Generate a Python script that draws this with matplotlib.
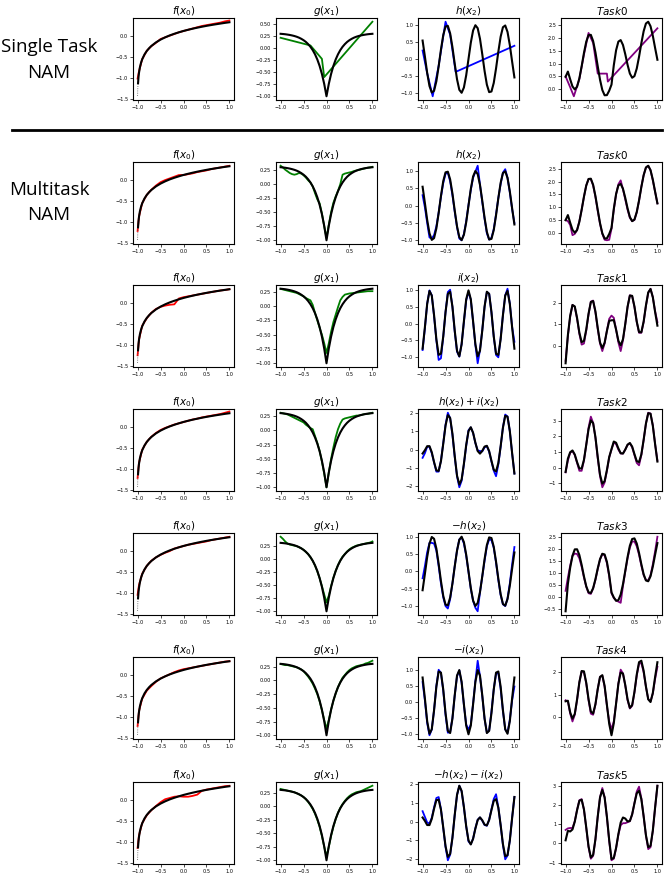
import matplotlib
matplotlib.use("Agg")
import matplotlib.pyplot as plt
import numpy as np
from matplotlib.lines import Line2D

# sampling positions
x_grid = np.linspace(-1, 1, 41)
x_f = [-1.0, -0.995, -0.99, -0.98, -0.97, -0.95, -0.925, -0.9, -0.85, -0.8, -0.75, -0.7,
       -0.6, -0.5, -0.4, -0.3, -0.2, -0.1, 0.0, 0.1, 0.2, 0.3, 0.4, 0.5, 0.6, 0.7, 0.8, 0.9, 1.0]
x_f_nam = [-1.0, -0.97, -0.9, -0.8, -0.7, -0.6, -0.5, -0.4, -0.3, -0.2, -0.1, 0.0,
           0.1, 0.2, 0.3, 0.4, 0.5, 0.6, 0.7, 0.8, 0.9, 1.0]

# ground truth shape functions (black)
f_true = [-1.43, -1.243, -1.131, -0.985, -0.887, -0.755, -0.644, -0.563, -0.447, -0.364, -0.299, -0.245,
          -0.160, -0.094, -0.040, 0.006, 0.045, 0.080, 0.112, 0.140, 0.166, 0.190, 0.212, 0.233, 0.252,
          0.270, 0.287, 0.304, 0.319]
g_true = [0.303, 0.299, 0.294, 0.287, 0.279, 0.269, 0.257, 0.242, 0.223, 0.199, 0.170, 0.134, 0.088,
          0.032, -0.038, -0.125, -0.233, -0.367, -0.534, -0.742, -1.000, -0.742, -0.534, -0.367, -0.233,
          -0.125, -0.038, 0.032, 0.088, 0.134, 0.170, 0.199, 0.223, 0.242, 0.257, 0.269, 0.279, 0.287,
          0.294, 0.299, 0.303]
h_true = [0.544, 0.075, -0.412, -0.798, -0.989, -0.938, -0.657, -0.215, 0.279, 0.706, 0.959, 0.978,
          0.757, 0.351, -0.141, -0.598, -0.909, -0.997, -0.841, -0.479, 0.000, 0.479, 0.841, 0.997,
          0.909, 0.598, 0.141, -0.351, -0.757, -0.978, -0.959, -0.706, -0.279, 0.215, 0.657, 0.938,
          0.989, 0.798, 0.412, -0.075, -0.544]
i_true = [-0.760, -0.113, 0.594, 0.983, 0.844, 0.252, -0.476, -0.946, -0.911, -0.390, 0.347, 0.893,
          0.960, 0.512, -0.211, -0.821, -0.990, -0.628, 0.071, 0.732, 1.000, 0.732, 0.071, -0.628,
          -0.990, -0.821, -0.211, 0.512, 0.960, 0.893, 0.347, -0.390, -0.911, -0.946, -0.476, 0.252,
          0.844, 0.983, 0.594, -0.113, -0.760]
hi_true = [-0.216, -0.038, 0.182, 0.185, -0.145, -0.686, -1.133, -1.161, -0.632, 0.316, 1.306, 1.871,
           1.717, 0.863, -0.352, -1.419, -1.899, -1.625, -0.770, 0.253, 1.000, 1.211, 0.912, 0.369,
           -0.081, -0.223, -0.070, 0.161, 0.203, -0.085, -0.612, -1.096, -1.190, -0.731, 0.181, 1.190,
           1.833, 1.781, 1.006, -0.188, -1.304]

# ground truth task outputs (black)
task0_true = [0.487, 0.689, 0.389, 0.112, -0.004, 0.102, 0.425, 0.897, 1.412, 1.849, 2.105, 2.116,
              1.875, 1.436, 0.897, 0.373, -0.027, -0.231, -0.225, -0.054, 0.182, 0.933, 1.517, 1.854,
              1.912, 1.721, 1.363, 0.952, 0.613, 0.449, 0.514, 0.806, 1.266, 1.788, 2.254, 2.556,
              2.625, 2.451, 2.080, 1.605, 1.148]
task1_true = [-0.817, 0.501, 1.395, 1.893, 1.829, 1.292, 0.606, 0.166, 0.222, 0.753, 1.493, 2.031,
              2.078, 1.597, 0.827, 0.150, -0.108, 0.138, 0.687, 1.157, 1.182, 1.186, 0.747, 0.229,
              0.013, 0.302, 1.011, 1.815, 2.330, 2.320, 1.820, 1.122, 0.634, 0.627, 1.121, 1.870,
              2.480, 2.636, 2.262, 1.567, 0.932]
task2_true = [-0.273, 0.576, 0.983, 1.095, 0.840, 0.354, -0.051, -0.049, 0.501, 1.459, 2.452, 3.009,
              2.835, 1.948, 0.686, -0.448, -1.017, -0.859, -0.154, 0.678, 1.182, 1.665, 1.588, 1.226,
              0.922, 0.900, 1.152, 1.464, 1.573, 1.342, 0.861, 0.416, 0.355, 0.842, 1.778, 2.808,
              3.469, 3.434, 2.674, 1.492, 0.388]
task3_true = [-0.601, 0.539, 1.213, 1.708, 1.974, 1.978, 1.739, 1.327, 0.854, 0.437, 0.187, 0.160,
              0.361, 0.734, 1.179, 1.569, 1.791, 1.763, 1.457, 0.904, 0.182, -0.025, -0.165, -0.140,
              0.094, 0.525, 1.081, 1.654, 2.127, 2.405, 2.432, 2.218, 1.824, 1.358, 0.940, 0.680,
              0.647, 0.855, 1.256, 1.755, 2.236]
task4_true = [0.703, 0.727, 0.207, -0.073, 0.141, 0.788, 1.558, 2.058, 2.044, 1.533, 0.799, 0.245,
              0.158, 0.573, 1.249, 1.792, 1.872, 1.394, 0.545, -0.307, -0.818, -0.278, 0.605, 1.485,
              1.993, 1.944, 1.433, 0.791, 0.410, 0.534, 1.126, 1.902, 2.456, 2.519, 2.073, 1.366,
              0.792, 0.670, 1.074, 1.793, 2.452]
task5_true = [0.159, 0.652, 0.619, 0.725, 1.130, 1.726, 2.215, 2.273, 1.765, 0.827, -0.160, -0.733,
              -0.599, 0.222, 1.390, 2.390, 2.781, 2.391, 1.386, 0.172, -0.818, -0.757, -0.236, 0.488,
              1.084, 1.346, 1.292, 1.142, 1.167, 1.512, 2.085, 2.608, 2.735, 2.304, 1.416, 0.428,
              -0.197, -0.128, 0.662, 1.868, 2.996]

# single task NAM (row 1), piecewise learned curves
st_f = [-1.02, -0.85, -0.56, -0.36, -0.25, -0.17, -0.08, -0.04, 0.00, 0.04, 0.08, 0.11, 0.14, 0.17,
        0.20, 0.23, 0.25, 0.27, 0.29, 0.31, 0.34, 0.36]
st_g_x = [-1.0, -0.35, -0.1, -0.05, 1.0]
st_g = [0.22, 0.06, -0.22, -0.60, 0.555]
st_h_x = [-1.0, -0.9, -0.78, -0.65, -0.5, -0.4, -0.28, 1.0]
st_h = [0.25, -0.42, -1.10, -0.20, 1.10, 0.72, -0.38, 0.39]
st_t_x = [-1.0, -0.9, -0.82, -0.7, -0.6, -0.5, -0.4, -0.3, -0.1, -0.08, 1.0]
st_t = [0.50, 0.08, -0.27, 0.40, 1.35, 2.19, 1.80, 0.61, 0.61, 0.30, 2.37]

# multitask NAM (rows 2-7), learned curves
mt_f = [
    [-1.22, -0.88, -0.56, -0.36, -0.24, -0.14, -0.06, -0.01, 0.03, 0.07, 0.11, 0.11, 0.13, 0.15, 0.18, 0.20, 0.22, 0.25, 0.27, 0.29, 0.31, 0.33],
    [-1.25, -0.88, -0.55, -0.37, -0.24, -0.15, -0.10, -0.07, -0.05, -0.04, 0.10, 0.13, 0.15, 0.17, 0.19, 0.21, 0.23, 0.25, 0.27, 0.29, 0.30, 0.32],
    [-1.22, -0.86, -0.55, -0.36, -0.24, -0.15, -0.08, -0.03, 0.01, 0.05, 0.08, 0.11, 0.14, 0.17, 0.19, 0.22, 0.24, 0.26, 0.28, 0.30, 0.33, 0.36],
    [-1.05, -0.82, -0.55, -0.36, -0.24, -0.16, -0.10, -0.05, -0.01, 0.05, 0.08, 0.11, 0.14, 0.16, 0.18, 0.20, 0.22, 0.25, 0.27, 0.29, 0.31, 0.33],
    [-1.22, -0.87, -0.57, -0.38, -0.27, -0.17, -0.09, -0.04, 0.01, 0.06, 0.10, 0.13, 0.15, 0.17, 0.19, 0.21, 0.23, 0.25, 0.27, 0.29, 0.31, 0.32],
    [-1.15, -0.85, -0.56, -0.37, -0.25, -0.15, -0.06, 0.01, 0.04, 0.07, 0.08, 0.07, 0.07, 0.09, 0.12, 0.21, 0.24, 0.26, 0.28, 0.30, 0.32, 0.33],
]
mt_g = [
    [0.33, 0.30, 0.26, 0.23, 0.20, 0.18, 0.17, 0.18, 0.20, 0.19, 0.16, 0.12, 0.07, 0.03, -0.04, -0.16, -0.27, -0.34, -0.52, -0.75, -0.96, -0.72, -0.50, -0.33, -0.22, -0.12, 0.00, 0.17, 0.19, 0.20, 0.21, 0.22, 0.235, 0.245, 0.255, 0.265, 0.275, 0.285, 0.295, 0.30, 0.31],
    [0.30, 0.29, 0.28, 0.27, 0.26, 0.25, 0.24, 0.23, 0.21, 0.19, 0.17, 0.14, 0.12, 0.10, 0.02, -0.12, -0.25, -0.38, -0.50, -0.65, -0.82, -0.65, -0.45, -0.28, -0.15, -0.02, 0.10, 0.16, 0.20, 0.21, 0.22, 0.225, 0.23, 0.235, 0.24, 0.245, 0.25, 0.255, 0.26, 0.26, 0.26],
    [0.31, 0.30, 0.29, 0.28, 0.26, 0.24, 0.22, 0.20, 0.18, 0.16, 0.14, 0.10, 0.07, 0.04, 0.02, -0.10, -0.22, -0.36, -0.55, -0.76, -1.00, -0.74, -0.50, -0.30, -0.12, 0.02, 0.12, 0.19, 0.21, 0.22, 0.23, 0.24, 0.25, 0.26, 0.26, 0.27, 0.28, 0.29, 0.29, 0.30, 0.31],
    [0.42, 0.38, 0.33, 0.29, 0.27, 0.26, 0.25, 0.24, 0.22, 0.20, 0.17, 0.13, 0.09, 0.03, -0.04, -0.13, -0.24, -0.37, -0.52, -0.68, -0.83, -0.70, -0.52, -0.36, -0.23, -0.12, -0.03, 0.04, 0.09, 0.14, 0.18, 0.21, 0.23, 0.25, 0.26, 0.27, 0.28, 0.29, 0.30, 0.31, 0.33],
    [0.30, 0.29, 0.28, 0.28, 0.27, 0.26, 0.25, 0.24, 0.22, 0.20, 0.17, 0.12, 0.07, 0.01, -0.06, -0.15, -0.25, -0.38, -0.54, -0.72, -0.88, -0.72, -0.53, -0.37, -0.24, -0.12, -0.03, 0.05, 0.10, 0.15, 0.19, 0.22, 0.24, 0.26, 0.27, 0.28, 0.29, 0.31, 0.32, 0.34, 0.36],
    [0.32, 0.31, 0.30, 0.29, 0.28, 0.27, 0.26, 0.24, 0.22, 0.20, 0.17, 0.13, 0.08, 0.02, -0.05, -0.14, -0.25, -0.38, -0.55, -0.75, -0.93, -0.75, -0.55, -0.38, -0.24, -0.12, -0.03, 0.04, 0.10, 0.15, 0.19, 0.22, 0.24, 0.26, 0.27, 0.28, 0.30, 0.32, 0.34, 0.36, 0.38],
]
mt_third = [
    [0.30, -0.05, -0.50, -0.92, -0.95, -0.85, -0.60, -0.20, 0.25, 0.65, 0.92, 0.95, 0.70, 0.30, -0.18, -0.62, -0.95, -1.00, -0.82, -0.45, 0.02, 0.45, 0.80, 0.98, 1.15, 0.60, 0.10, -0.38, -0.80, -0.98, -0.93, -0.68, -0.25, 0.22, 0.62, 0.95, 1.05, 0.80, 0.38, -0.10, -0.50],
    [-0.80, -0.15, 0.60, 1.00, 0.85, 0.22, -0.50, -1.10, -1.05, -0.40, 0.35, 0.95, 1.02, 0.50, -0.25, -0.85, -1.00, -0.62, 0.05, 0.70, 0.95, 0.72, 0.05, -0.65, -1.20, -0.80, -0.20, 0.50, 0.95, 0.90, 0.33, -0.40, -0.95, -1.02, -0.45, 0.25, 0.85, 1.05, 0.60, -0.10, -0.55],
    [-0.45, -0.20, 0.15, 0.15, -0.20, -0.70, -1.20, -1.20, -0.60, 0.35, 1.35, 2.00, 1.70, 0.80, -0.40, -1.45, -2.05, -1.70, -0.80, 0.20, 1.05, 1.20, 0.90, 0.35, -0.05, -0.08, -0.10, 0.12, 0.18, -0.12, -0.65, -1.15, -1.45, -0.80, 0.15, 1.20, 1.90, 1.80, 1.00, -0.20, -1.30],
    [-0.20, 0.15, 0.55, 0.82, 0.82, 0.80, 0.60, 0.15, -0.35, -0.75, -1.00, -1.07, -0.80, -0.35, 0.15, 0.60, 0.92, 0.98, 0.80, 0.45, -0.02, -0.50, -0.85, -1.05, -1.15, -0.60, -0.15, 0.30, 0.72, 0.92, 0.90, 0.68, 0.25, -0.25, -0.68, -0.95, -1.00, -0.78, -0.35, 0.20, 0.70],
    [0.62, 0.05, -0.65, -1.03, -0.85, -0.25, 0.50, 1.00, 0.90, 0.35, -0.40, -0.95, -0.93, -0.50, 0.20, 0.80, 0.98, 0.60, -0.10, -0.70, -0.85, -0.70, -0.05, 0.65, 1.28, 0.80, 0.18, -0.52, -0.95, -0.88, -0.30, 0.40, 0.88, 0.90, 0.42, -0.28, -0.85, -0.95, -0.55, 0.05, 0.48],
    [0.55, 0.25, -0.05, -0.10, 0.20, 0.75, 1.25, 1.30, 0.65, -0.35, -1.35, -2.05, -1.75, -0.85, 0.35, 1.40, 1.90, 1.60, 0.75, -0.25, -1.05, -1.20, -0.90, -0.35, 0.10, 0.22, 0.05, -0.18, -0.22, 0.10, 0.65, 1.20, 1.45, 0.75, -0.20, -1.25, -2.00, -1.80, -1.00, 0.20, 1.30],
]
mt_task = [
    [0.50, 0.45, 0.30, -0.10, -0.05, 0.10, 0.45, 0.90, 1.40, 1.85, 2.10, 2.10, 1.85, 1.40, 0.85, 0.35, -0.05, -0.28, -0.30, -0.28, 0.15, 0.90, 1.50, 1.90, 2.05, 1.70, 1.30, 0.90, 0.58, 0.45, 0.50, 0.80, 1.25, 1.80, 2.25, 2.55, 2.62, 2.45, 2.05, 1.60, 1.15],
    [-0.70, 0.45, 1.35, 1.90, 1.80, 1.25, 0.55, 0.05, 0.10, 0.70, 1.45, 2.05, 2.10, 1.55, 0.78, 0.10, -0.25, 0.10, 0.70, 1.25, 1.40, 1.30, 0.75, 0.15, -0.25, 0.25, 1.00, 1.80, 2.35, 2.30, 1.80, 1.10, 0.60, 0.60, 1.10, 1.85, 2.45, 2.65, 2.25, 1.60, 1.10],
    [-0.30, 0.45, 0.95, 1.05, 0.80, 0.30, -0.20, -0.20, 0.45, 1.45, 2.55, 3.25, 2.85, 1.90, 0.60, -0.55, -1.25, -0.95, -0.20, 0.65, 1.15, 1.60, 1.50, 1.15, 0.90, 0.90, 1.15, 1.45, 1.55, 1.30, 0.80, 0.30, 0.15, 0.80, 1.75, 2.80, 3.50, 3.45, 2.70, 1.50, 0.45],
    [0.25, 0.80, 1.30, 1.70, 1.80, 1.78, 1.60, 1.25, 0.80, 0.42, 0.15, 0.12, 0.35, 0.70, 1.15, 1.55, 1.78, 1.72, 1.40, 0.85, 0.15, -0.05, -0.15, -0.20, -0.25, 0.45, 1.05, 1.60, 2.05, 2.30, 2.30, 2.10, 1.75, 1.30, 0.90, 0.70, 0.68, 0.90, 1.35, 1.90, 2.50],
    [0.75, 0.70, 0.15, -0.20, 0.10, 0.75, 1.55, 2.05, 2.00, 1.50, 0.75, 0.15, 0.10, 0.55, 1.25, 1.80, 1.85, 1.35, 0.50, -0.20, -0.55, -0.20, 0.60, 1.50, 2.12, 1.95, 1.40, 0.75, 0.38, 0.50, 1.10, 1.85, 2.38, 2.42, 2.00, 1.35, 0.80, 0.70, 1.05, 1.70, 2.25],
    [0.70, 0.78, 0.80, 0.80, 1.15, 1.75, 2.25, 2.30, 1.75, 0.80, -0.20, -0.80, -0.65, 0.20, 1.40, 2.40, 2.88, 2.40, 1.35, 0.10, -0.88, -0.80, -0.25, 0.45, 0.95, 1.05, 1.05, 1.10, 1.15, 1.50, 2.10, 2.70, 2.95, 2.35, 1.40, 0.40, -0.30, -0.20, 0.65, 1.85, 3.00],
]

third_titles = [r'$h(x_2)$', r'$h(x_2)$', r'$i(x_2)$', r'$h(x_2)+i(x_2)$', r'$-h(x_2)$',
                r'$-i(x_2)$', r'$-h(x_2)-i(x_2)$']
task_titles = [r'$Task0$', r'$Task0$', r'$Task1$', r'$Task2$', r'$Task3$', r'$Task4$', r'$Task5$']

x_ticks = [-1.0, -0.5, 0.0, 0.5, 1.0]
f_ticks = [-1.5, -1.0, -0.5, 0.0]
g_ticks_st = [-1.0, -0.75, -0.5, -0.25, 0.0, 0.25, 0.5]
g_ticks = [-1.0, -0.75, -0.5, -0.25, 0.0, 0.25]
unit_ticks = [-1.0, -0.5, 0.0, 0.5, 1.0]
two_ticks = [-2, -1, 0, 1, 2]
task_ticks = [[0.0, 0.5, 1.0, 1.5, 2.0, 2.5], [0.0, 0.5, 1.0, 1.5, 2.0, 2.5], [0, 1, 2],
              [-1, 0, 1, 2, 3], [-0.5, 0.0, 0.5, 1.0, 1.5, 2.0, 2.5], [0, 1, 2], [-1, 0, 1, 2, 3]]
third_ticks = [unit_ticks, unit_ticks, unit_ticks, two_ticks, unit_ticks, unit_ticks, two_ticks]

h_arr = np.array(h_true)
i_arr = np.array(i_true)
hi_arr = np.array(hi_true)
third_true = [h_arr, h_arr, i_arr, hi_arr, -h_arr, -i_arr, -hi_arr]
task_true = [task0_true, task0_true, task1_true, task2_true, task3_true, task4_true, task5_true]

# layout in pixels of the 671 x 880 picture
W_FIG, H_FIG = 671, 880
col_left = [133, 276, 418, 561]
row_top = [18, 162, 285, 409, 533, 657, 782]
AX_W, AX_H = 101, 82

fig = plt.figure(figsize=(W_FIG / 100, H_FIG / 100), dpi=100)


def make_ax(r, c):
    ax = fig.add_axes([col_left[c] / W_FIG, 1 - (row_top[r] + AX_H) / H_FIG,
                       AX_W / W_FIG, AX_H / H_FIG])
    ax.tick_params(labelsize=3.6, length=2, width=0.5, pad=1.5)
    for s in ax.spines.values():
        s.set_linewidth(0.8)
    ax.set_xticks(x_ticks)
    return ax


LW_K = 1.5
LW_C = 1.3

for r in range(7):
    # f(x0)
    ax = make_ax(r, 0)
    if r == 0:
        ax.plot(x_f_nam, st_f, color='red', lw=LW_C, zorder=2)
    else:
        ax.plot(x_f_nam, mt_f[r - 1], color='red', lw=LW_C, zorder=2)
    ax.plot(x_f[:3], f_true[:3], color='0.3', lw=0.6, ls=':', zorder=3)
    ax.plot(x_f[2:], f_true[2:], color='black', lw=LW_K, zorder=3)
    ax.set_yticks(f_ticks)
    ax.set_ylim(-1.53, 0.42)
    ax.set_title(r'$f(x_0)$', fontsize=7.5, pad=2)

    # g(x1)
    ax = make_ax(r, 1)
    if r == 0:
        ax.plot(st_g_x, st_g, color='green', lw=LW_C, zorder=2)
        ax.set_yticks(g_ticks_st)
    else:
        ax.plot(x_grid, mt_g[r - 1], color='green', lw=LW_C, zorder=2)
        ax.set_yticks(g_ticks)
    ax.plot(x_grid, g_true, color='black', lw=LW_K, zorder=3)
    ax.set_title(r'$g(x_1)$', fontsize=7.5, pad=2)

    # third shape function
    ax = make_ax(r, 2)
    if r == 0:
        ax.plot(st_h_x, st_h, color='blue', lw=LW_C, zorder=2)
    else:
        ax.plot(x_grid, mt_third[r - 1], color='blue', lw=LW_C, zorder=2)
    ax.plot(x_grid, third_true[r], color='black', lw=LW_K, zorder=3)
    ax.set_yticks(third_ticks[r])
    ax.set_title(third_titles[r], fontsize=7.5, pad=2)

    # task output
    ax = make_ax(r, 3)
    if r == 0:
        ax.plot(st_t_x, st_t, color='purple', lw=LW_C, zorder=2)
    else:
        ax.plot(x_grid, mt_task[r - 1], color='purple', lw=LW_C, zorder=2)
    ax.plot(x_grid, task_true[r], color='black', lw=LW_K, zorder=3)
    ax.set_yticks(task_ticks[r])
    ax.set_title(task_titles[r], fontsize=7.5, pad=2)

# row labels and separator
lab_font = dict(ha='center', va='center', fontsize=13.5, family='Open Sans')
fig.text(49 / W_FIG, 1 - 47 / H_FIG, 'Single Task', **lab_font)
fig.text(49 / W_FIG, 1 - 73 / H_FIG, 'NAM', **lab_font)
fig.text(49 / W_FIG, 1 - 190 / H_FIG, 'Multitask', **lab_font)
fig.text(49 / W_FIG, 1 - 215 / H_FIG, 'NAM', **lab_font)
fig.add_artist(Line2D([12 / W_FIG, 662 / W_FIG], [1 - 130 / H_FIG] * 2, color='black', lw=2))

fig.savefig('out.png', dpi=100)
